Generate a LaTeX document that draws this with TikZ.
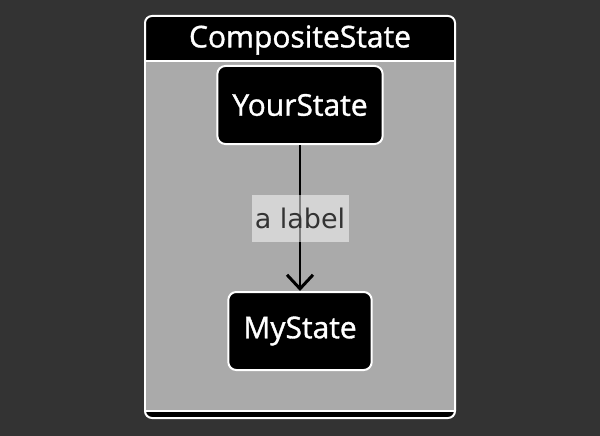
\documentclass[tikz,border=0pt]{standalone}
\usepackage{fontspec}
\setmainfont{Open Sans}
\newfontfamily\statefont[FakeBold=1.2]{Open Sans}
\newfontfamily\lblfont{DejaVu Sans}
\usetikzlibrary{arrows.meta,positioning}
\definecolor{canvas}{HTML}{333333}
\definecolor{body}{HTML}{AAAAAA}
\tikzset{
  state/.style={draw=white, line width=2pt, fill=black, rounded corners=8pt,
    text=white, font=\statefont\fontsize{30}{34}\selectfont, minimum height=78pt, inner xsep=15pt},
  lbl/.style={fill=white, fill opacity=0.5, text opacity=1, text=canvas,
    font=\lblfont\fontsize{27}{30}\selectfont, minimum width=97pt, minimum height=47pt, inner sep=0pt},
  trans/.style={line width=2pt, -{Straight Barb[length=14pt, width=26pt, line width=3pt]}}
}
\begin{document}
\begin{tikzpicture}[x=1pt,y=-1pt,level distance=226pt]
\path[fill=canvas] (0,0) rectangle (600,436);
\useasboundingbox (0,0) rectangle (600,436);
% composite state frame
\draw[white, line width=2pt, fill=black, rounded corners=7pt] (145,16) rectangle (455,418);
\fill[body] (146,61) rectangle (454,411);
\draw[white, line width=2pt] (146,61) -- (454,61);
\draw[white, line width=2pt] (146,411) -- (454,411);
\node[text=white, font=\statefont\fontsize{30}{34}\selectfont] (title) at (300,40) {CompositeState};
% inner states
\node[state] (yours) at (300,105) {YourState}
	child {node[state] (mine) {MyState} edge from parent[draw=none]};
\draw[trans] (yours) -- node[lbl] {a label} (mine);
\end{tikzpicture}
\end{document}
